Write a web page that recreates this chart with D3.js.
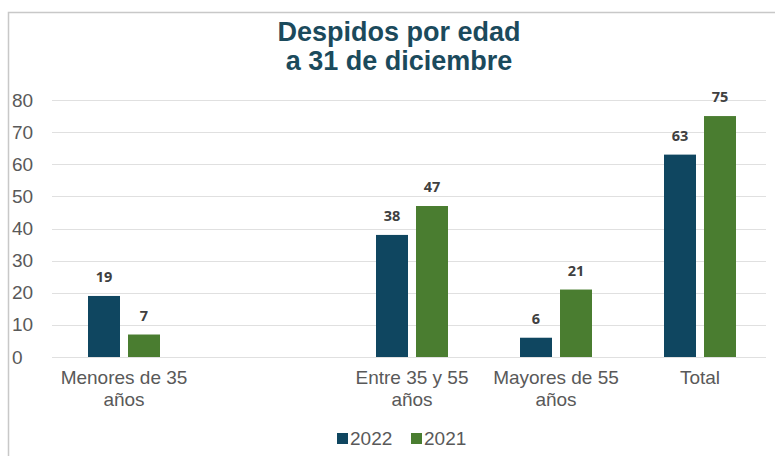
<!DOCTYPE html>
<html><head><meta charset="utf-8">
<script src="https://cdn.jsdelivr.net/npm/d3@7"></script>
<style>body{margin:0;background:#fff}svg{display:block}</style>
</head><body>
<svg id="c" width="775" height="456"></svg>
<script>
const categories = ["Menores de 35 años", "", "Entre 35 y 55 años", "Mayores de 55 años", "Total"];
const series = ["2022", "2021"];
const values2022 = [19, null, 38, 6, 63];
const values2021 = [7, null, 47, 21, 75];
const yTicks = [0, 10, 20, 30, 40, 50, 60, 70, 80];
const colors = ["#0f4660", "#4a7d30"];

const svg = d3.select("#c");
const font = "'Liberation Sans', Arial, sans-serif";

// frame
svg.append("rect").attr("x", 8.5).attr("y", 12.5).attr("width", 800).attr("height", 500)
  .attr("fill", "none").attr("stroke", "#c8c8c8").attr("stroke-width", 1.5);

// title
svg.append("text").attr("x", 399).attr("y", 41).attr("text-anchor", "middle")
  .attr("font-family", font).attr("font-weight", "bold").attr("font-size", 27)
  .attr("fill", "#1b4a5c").text("Despidos por edad");
svg.append("text").attr("x", 399).attr("y", 70).attr("text-anchor", "middle")
  .attr("font-family", font).attr("font-weight", "bold").attr("font-size", 27)
  .attr("fill", "#1b4a5c").text("a 31 de diciembre");

const x = d3.scaleBand().domain(categories.map((d, i) => i)).range([52, 772]).paddingInner(0).paddingOuter(0);
const y = d3.scaleLinear().domain([0, 80]).range([357, 100]);
const xs = d3.scaleBand().domain(series).range([0, 72]).paddingInner(0.2);

// grid
svg.append("g").selectAll("line").data(yTicks).join("line")
  .attr("x1", 52).attr("x2", 766).attr("y1", d => Math.round(y(d)) + 0.5).attr("y2", d => Math.round(y(d)) + 0.5)
  .attr("stroke", "#e0e0e0").attr("stroke-width", 1.2);

// y axis labels
const yAxis = d3.axisLeft(y).tickValues(yTicks).tickSize(0).tickPadding(0);
const ya = svg.append("g").attr("transform", "translate(12,0)").call(yAxis);
ya.select(".domain").remove();
ya.selectAll("text").attr("text-anchor", "start").attr("font-family", font)
  .attr("font-size", 19).attr("fill", "#595959");

// bars
const data = [];
categories.forEach((c, i) => {
  [values2022[i], values2021[i]].forEach((v, j) => {
    if (v != null) data.push({i, s: series[j], v, color: colors[j]});
  });
});
const off = d => x(d.i) + (x.bandwidth() - 72) / 2 + xs(d.s);
svg.append("g").selectAll("rect").data(data).join("rect")
  .attr("x", off).attr("width", xs.bandwidth())
  .attr("y", d => y(d.v)).attr("height", d => y(0) - y(d.v))
  .attr("fill", d => d.color);

svg.append("g").selectAll("text").data(data).join("text")
  .attr("x", d => off(d) + xs.bandwidth() / 2).attr("y", d => y(d.v) - 14)
  .attr("text-anchor", "middle").attr("font-family", "'Open Sans', sans-serif")
  .attr("font-weight", "bold").attr("font-size", 14.5).attr("fill", "#404040")
  .text(d => d.v);

// x axis labels
const xAxis = d3.axisBottom(x).tickSize(0).tickPadding(0).tickFormat(i => categories[i]);
const xa = svg.append("g").attr("transform", "translate(0,370)").call(xAxis);
xa.select(".domain").remove();
xa.selectAll("text").attr("font-family", font).attr("font-size", 19).attr("fill", "#595959")
  .each(function(i) {
    const t = d3.select(this);
    const words = categories[i].split(" ");
    t.text(null);
    const lines = [];
    let line = [];
    words.forEach(w => {
      const test = line.concat(w).join(" ");
      if (test.length > 13 && line.length) { lines.push(line.join(" ")); line = [w]; }
      else line.push(w);
    });
    if (line.length) lines.push(line.join(" "));
    lines.forEach((l, k) => t.append("tspan").attr("x", 0).attr("dy", k === 0 ? "0.71em" : "1.2em").text(l));
  });

// legend
const lg = svg.append("g").attr("transform", "translate(337,433)");
series.forEach((s, j) => {
  const g = lg.append("g").attr("transform", `translate(${j * 74},0)`);
  g.append("rect").attr("x", 0).attr("y", 0).attr("width", 11).attr("height", 11).attr("fill", colors[j]);
  g.append("text").attr("x", 13).attr("y", 12).attr("font-family", font).attr("font-size", 19)
    .attr("fill", "#595959").text(s);
});
</script>
</body></html>
